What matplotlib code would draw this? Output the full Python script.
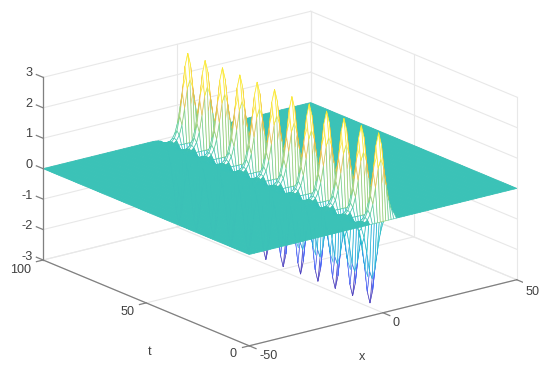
import numpy as np
import matplotlib
matplotlib.use('Agg')
from matplotlib import pyplot as plt
from matplotlib.colors import LinearSegmentedColormap

# Ticks and labels
x_ticks = [-50, 0, 50]
t_ticks = [0, 50, 100]
z_ticks = [-3, -2, -1, 0, 1, 2, 3]

# Surface grid
x_grid = np.arange(-50, 51)
t_grid = np.linspace(0, 100, 96)

# Height of the ridge at x = 0, one cycle every 8 rows of t_grid
amplitude = 2.85
cycle = [0, 0.71, 1, 0.71, 0, -0.71, -1, -0.71]
cycles = 12

# Ridge cross section along x, as a share of the height at x = 0
section_x = [-8, -7, -6, -5, -4, -3, -2, -1, 0, 1, 2, 3, 4, 5, 6, 7, 8]
section_k = [0.004, 0.01, 0.025, 0.06, 0.14, 0.30, 0.56, 0.86, 1,
             0.86, 0.56, 0.30, 0.14, 0.06, 0.025, 0.01, 0.004]

parula = LinearSegmentedColormap.from_list('parula', [
    (0.24, 0.15, 0.66), (0.28, 0.36, 0.98), (0.13, 0.58, 0.90), (0.02, 0.71, 0.79),
    (0.23, 0.76, 0.72), (0.36, 0.80, 0.55), (0.70, 0.79, 0.33), (0.98, 0.73, 0.24),
    (0.98, 0.95, 0.08)])

ridge = amplitude * np.array(cycle * cycles)
Z = np.zeros((len(t_grid), len(x_grid)))
for sx, k in zip(section_x, section_k):
    Z[:, sx + 50] = ridge * k
X, T = np.meshgrid(x_grid, t_grid)

W, H = 550, 372
fig = plt.figure(figsize=(W / 100, H / 100), dpi=100)
ax = fig.add_axes([23.2 / W, -63.3 / H, 500 / W, 500 / H], projection='3d',
                  computed_zorder=False)
ax.set_proj_type('ortho')
ax.view_init(elev=18.7, azim=-127.6)
ax.set_box_aspect((338, 338, 193))
ax.set_xlim(-50, 50, view_margin=0)
ax.set_ylim(0, 100, view_margin=0)
ax.set_zlim(-3, 3, view_margin=0)
ax.set_axis_off()
ax.patch.set_alpha(0)

# Walls and floor grid
grid_c = '#e8e8e8'
for z in z_ticks:
    ax.plot([-50, 50], [100, 100], [z, z], color=grid_c, lw=0.8, zorder=1)
    ax.plot([50, 50], [0, 100], [z, z], color=grid_c, lw=0.8, zorder=1)
for x in x_ticks:
    ax.plot([x, x], [0, 100], [-3, -3], color=grid_c, lw=0.8, zorder=1)
    ax.plot([x, x], [100, 100], [-3, 3], color=grid_c, lw=0.8, zorder=1)
for t in t_ticks:
    ax.plot([-50, 50], [t, t], [-3, -3], color=grid_c, lw=0.8, zorder=1)
    ax.plot([50, 50], [t, t], [-3, 3], color=grid_c, lw=0.8, zorder=1)

# Mesh: coloured edges on white faces, flat cells read as solid
cell_z = (Z[:-1, :-1] + Z[1:, :-1] + Z[:-1, 1:] + Z[1:, 1:]) / 4
edge = parula(np.clip((cell_z + 2.4) / 4.8, 0, 1)).reshape(-1, 4)
face = np.ones_like(edge)
flat = (np.abs(cell_z) < 0.05).ravel()
face[flat] = edge[flat]
edge[~flat, 3] = 0.8
surf = ax.plot_surface(X, T, Z, rstride=1, cstride=1, color='white', shade=False,
                       linewidth=0.55, antialiased=True, zorder=2)
surf.set_facecolor(face)
surf.set_edgecolor(edge)

# Axis lines and ticks
axis_c = '#808080'
ax.plot([-50, -50], [100, 100], [-3, 3], color=axis_c, lw=0.9, zorder=3)
ax.plot([-50, -50], [0, 100], [-3, -3], color=axis_c, lw=0.9, zorder=3)
ax.plot([-50, 50], [0, 0], [-3, -3], color=axis_c, lw=0.9, zorder=3)
for z in z_ticks:
    ax.plot([-50, -50], [100, 103.3], [z, z], color=axis_c, lw=0.9, zorder=3)
for t in t_ticks:
    ax.plot([-50, -52.5], [t, t], [-3, -3], color=axis_c, lw=0.9, zorder=3)
for x in x_ticks:
    ax.plot([x, x], [0, -3.3], [-3, -3], color=axis_c, lw=0.9, zorder=3)


def label(px, py, s):
    fig.text(px / W, 1 - py / H, s, ha='center', va='center', color='#404040',
             family='Liberation Sans', fontsize=9.1)


z_label_px = [(27, 257), (27, 226), (27, 196), (29, 165), (29, 134), (29, 104), (29, 73)]
for (px, py), z in zip(z_label_px, z_ticks):
    label(px, py, str(z))
t_label_px = [(233, 354), (128, 312), (21, 270)]
for (px, py), t in zip(t_label_px, t_ticks):
    label(px, py, str(t))
x_label_px = [(269, 356), (396, 323), (533, 292)]
for (px, py), x in zip(x_label_px, x_ticks):
    label(px, py, str(x))
label(150, 352, 't')
label(362, 357, 'x')

fig.savefig('out.png', dpi=100)
